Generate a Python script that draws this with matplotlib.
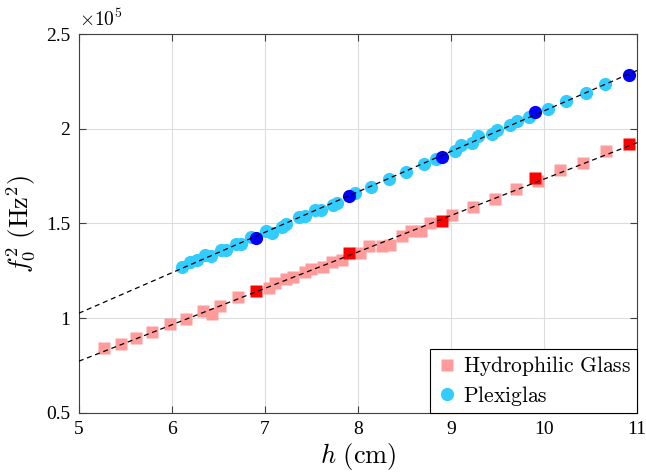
import numpy as np
import matplotlib
matplotlib.use('Agg')
import matplotlib.pyplot as plt
from matplotlib.ticker import FuncFormatter

# f0^2 values are in units of 1e5 Hz^2
# Hydrophilic glass, all measurements
glass_h = [5.27, 5.45, 5.61, 5.79, 5.98, 6.15, 6.34, 6.43, 6.52, 6.71,
           7.04, 7.11, 7.23, 7.30, 7.43, 7.50, 7.63, 7.72, 7.83, 8.02,
           8.12, 8.26, 8.34, 8.47, 8.57, 8.68, 8.77, 9.01, 9.24, 9.47,
           9.70, 9.94, 10.17, 10.42, 10.67]
glass_f2 = [0.841, 0.864, 0.896, 0.927, 0.968, 0.994, 1.038, 1.022, 1.065, 1.111,
            1.158, 1.184, 1.207, 1.218, 1.246, 1.258, 1.269, 1.295, 1.307, 1.346,
            1.383, 1.381, 1.387, 1.434, 1.462, 1.462, 1.501, 1.545, 1.589, 1.628,
            1.680, 1.724, 1.782, 1.818, 1.883]
# highlighted glass points
glass_h_sel = [6.90, 7.90, 8.90, 9.90, 10.91]
glass_f2_sel = [1.144, 1.346, 1.513, 1.738, 1.921]

# Plexiglas, all measurements
plexi_h = [6.11, 6.20, 6.27, 6.36, 6.42, 6.53, 6.58, 6.69, 6.74, 6.85,
           7.01, 7.08, 7.18, 7.23, 7.37, 7.43, 7.54, 7.60, 7.73, 7.78,
           7.97, 8.14, 8.33, 8.52, 8.71, 8.84, 9.04, 9.11, 9.23, 9.29,
           9.44, 9.50, 9.63, 9.71, 9.84, 10.04, 10.24, 10.45, 10.66]
plexi_f2 = [1.269, 1.298, 1.307, 1.332, 1.328, 1.359, 1.360, 1.390, 1.390, 1.429,
            1.460, 1.451, 1.483, 1.497, 1.536, 1.540, 1.573, 1.571, 1.598, 1.607,
            1.663, 1.691, 1.733, 1.770, 1.812, 1.840, 1.883, 1.914, 1.923, 1.962,
            1.972, 1.993, 2.020, 2.041, 2.064, 2.104, 2.148, 2.190, 2.235]
# highlighted plexiglas points
plexi_h_sel = [6.90, 7.90, 8.90, 9.90, 10.91]
plexi_f2_sel = [1.425, 1.645, 1.849, 2.087, 2.284]

x_ticks = [5, 6, 7, 8, 9, 10, 11]
y_ticks = [0.5, 1.0, 1.5, 2.0, 2.5]

plt.rcParams['font.family'] = ['Liberation Serif', 'DejaVu Serif']
plt.rcParams['mathtext.fontset'] = 'cm'

fig = plt.figure(figsize=(6.46, 4.73), dpi=100)
ax = fig.add_axes([0.122, 0.127, 0.864, 0.801])

ax.plot(glass_h, glass_f2, 's', color='#ff9b9b', ms=8, mec='none',
        label=r'$\mathrm{Hydrophilic\ Glass}$', zorder=2)
ax.plot(plexi_h, plexi_f2, 'o', color='#33ccff', ms=9.5, mec='none',
        label=r'$\mathrm{Plexiglas}$', zorder=2)
ax.plot(glass_h_sel, glass_f2_sel, 's', color='#ff0000', ms=8, mec='none', zorder=3)
ax.plot(plexi_h_sel, plexi_f2_sel, 'o', color='#0000ff', ms=9.5, mec='none', zorder=3)

# linear fits over the whole h range
hh = np.array([5, 11])
for h, f in [(glass_h, glass_f2), (plexi_h, plexi_f2)]:
    p = np.polyfit(h, f, 1)
    ax.plot(hh, np.polyval(p, hh), '--', color='k', lw=0.9, dashes=(4, 3), zorder=4)

ax.set_xlim(5, 11)
ax.set_ylim(0.5, 2.5)
ax.set_xticks(x_ticks)
ax.set_yticks(y_ticks)
ax.xaxis.set_major_formatter(FuncFormatter(lambda v, _: '%g' % v))
ax.yaxis.set_major_formatter(FuncFormatter(lambda v, _: '%g' % v))
ax.tick_params(direction='in', length=5, width=0.8, labelsize=14, color='#404040',
               top=True, right=True, pad=6)
ax.grid(True, color='#dddddd', lw=0.8)
ax.set_axisbelow(True)
for s in ax.spines.values():
    s.set_color('#404040')
    s.set_linewidth(0.8)

ax.text(0.0, 1.01, r'$\times 10^5$', transform=ax.transAxes, fontsize=14,
        ha='left', va='bottom')

ax.set_xlabel(r'$h\ (\mathrm{cm})$', fontsize=19, labelpad=2)
ax.set_ylabel(r'$f_0^2\ (\mathrm{Hz}^2)$', fontsize=19, labelpad=6)

leg = ax.legend(loc='lower right', borderaxespad=0, fontsize=15.5, fancybox=False,
                framealpha=1, edgecolor='k', handletextpad=0.2, handlelength=1.1,
                borderpad=0.25, labelspacing=0.25)
leg.get_frame().set_linewidth(0.8)

fig.savefig('out.png', dpi=100)
